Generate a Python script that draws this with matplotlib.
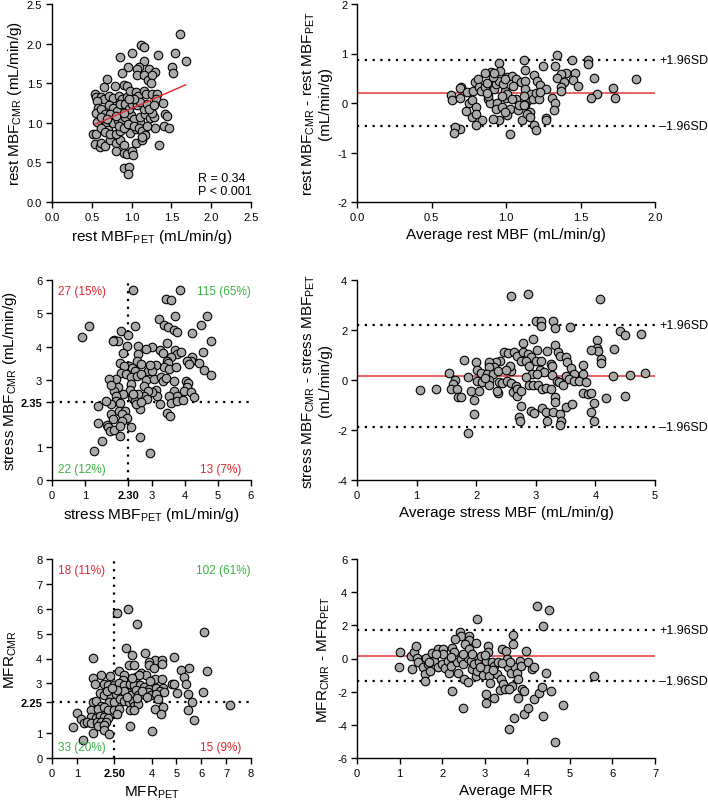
import matplotlib
matplotlib.use('Agg')
import matplotlib.pyplot as plt

plt.rcParams['font.family'] = ['Liberation Sans', 'DejaVu Sans']
plt.rcParams['mathtext.fontset'] = 'custom'
plt.rcParams['mathtext.rm'] = 'Liberation Sans'
plt.rcParams['mathtext.default'] = 'regular'
plt.rcParams['axes.unicode_minus'] = False

# ---- rest MBF: PET vs CMR ----
rest_pet = [1.61,1.12,1.15,1.00,0.85,1.33,1.55,1.68,1.15,1.51,
            1.52,0.95,1.09,1.07,1.07,1.22,1.30,0.88,1.16,1.21,
            0.69,1.26,1.24,0.65,0.79,0.90,0.94,0.54,0.55,0.61,
            0.65,0.57,0.58,0.71,0.77,0.84,0.85,0.88,0.94,0.98,
            1.05,1.08,1.15,1.18,1.25,1.32,1.31,1.39,1.42,1.45,
            1.41,1.47,1.29,1.35,0.52,0.55,0.54,0.60,0.62,0.67,
            0.73,0.80,0.86,0.81,0.91,0.90,0.94,1.01,1.02,0.90,
            0.97,0.95,1.06,1.13,1.15,0.98,1.06,1.10,0.63,0.66,
            0.70,0.77,0.83,0.88,0.92,0.99,1.03,1.11,1.17,1.23,
            1.28,1.26,1.15,0.55,0.61,0.67,0.71,0.77,0.82,0.86,
            0.92,0.97,1.01,1.07,1.11,1.19,1.22,1.03,0.57,0.61,
            0.67,0.73,0.80,0.86,0.84,0.90,0.96,1.03,1.09,1.13,
            1.19,1.17,1.13,0.73,0.80,0.90,0.97,1.28,0.61,0.69]
rest_cmr = [2.12,1.98,1.96,1.88,1.83,1.85,1.88,1.78,1.78,1.71,
            1.63,1.71,1.71,1.68,1.60,1.68,1.64,1.63,1.60,1.54,
            1.55,1.60,1.50,1.45,1.47,1.48,1.46,1.36,1.33,1.32,
            1.30,1.28,1.19,1.34,1.31,1.34,1.26,1.30,1.32,1.40,
            1.39,1.34,1.40,1.36,1.36,1.36,1.30,1.25,1.11,1.09,
            0.96,0.93,0.94,0.72,0.86,0.86,0.73,0.69,0.75,0.71,
            0.78,0.75,0.78,0.65,0.72,0.62,0.60,0.65,0.59,0.43,
            0.44,0.35,0.75,0.78,0.88,0.87,0.92,1.01,1.05,0.96,
            0.91,1.00,1.04,1.03,1.07,1.10,1.05,1.07,1.11,1.06,
            1.07,1.13,1.17,1.13,1.17,1.11,1.22,1.19,1.15,1.24,
            1.24,1.17,1.24,1.22,1.26,1.24,1.17,1.30,1.01,0.94,
            0.88,0.86,0.86,0.90,0.96,0.94,0.98,0.96,0.94,0.90,
            0.96,0.84,0.82,1.11,1.09,1.13,1.30,1.22,1.07,1.05]
rest_fit_x = [0.54, 1.68]
rest_fit_y = [0.98, 1.48]

# ---- rest MBF: Bland-Altman ----
rest_avg = [1.34,1.44,1.55,1.55,1.12,0.95,1.25,1.33,1.13,0.96,
            0.90,0.86,1.87,1.59,1.46,1.40,1.37,1.34,1.45,1.48,
            1.39,1.37,1.37,1.19,1.21,1.23,1.27,1.72,1.73,1.61,
            1.57,1.31,1.33,1.32,1.27,1.27,1.19,1.20,1.03,1.11,
            0.95,0.91,0.84,0.80,0.77,0.73,0.69,0.66,0.65,0.63,
            0.64,0.69,0.70,0.69,0.75,0.77,0.74,0.78,0.79,0.81,
            0.82,0.80,0.80,0.83,0.86,0.87,0.88,0.89,0.88,0.92,
            0.93,0.95,0.94,0.93,0.97,0.99,1.00,1.01,1.01,1.04,
            1.07,1.10,1.13,1.13,1.03,1.01,0.99,1.07,1.08,1.09,
            1.14,1.13,1.16,1.17,1.18,1.20,1.22,1.23,0.98,0.99,
            0.91,0.92,1.14,1.16,1.04,1.05,0.97,0.87,1.12,1.12]
rest_diff = [0.96,0.87,0.86,0.79,0.86,0.81,0.75,0.75,0.67,0.65,
             0.63,0.60,0.49,0.51,0.61,0.60,0.58,0.51,0.46,0.35,
             0.43,0.33,0.25,0.56,0.45,0.36,0.28,0.31,0.10,0.19,
             0.10,0.10,0.01,-0.15,-0.31,-0.35,-0.45,-0.55,-0.63,-0.35,
             -0.35,-0.32,-0.35,-0.44,-0.29,-0.17,-0.53,-0.49,-0.61,0.16,
             0.06,0.11,0.33,0.31,0.01,0.07,0.23,0.24,0.43,0.49,
             0.33,-0.09,-0.22,0.25,0.33,0.41,0.08,0.01,0.15,0.28,
             0.38,0.45,0.01,-0.12,-0.09,0.25,0.11,0.18,0.53,0.55,
             0.48,0.43,0.45,0.28,-0.12,-0.25,-0.19,0.08,-0.15,-0.05,
             0.05,-0.05,-0.19,0.18,0.09,0.21,0.08,0.23,0.38,0.48,
             0.53,0.61,-0.22,-0.29,0.08,0.35,0.15,0.21,0.15,-0.05]
rest_bias = 0.21
rest_loa = [-0.46, 0.87]

# ---- stress MBF: PET vs CMR ----
stress_pet = [2.45,3.85,3.43,3.60,4.67,3.70,3.22,3.38,3.51,4.49,
              2.51,1.13,0.90,3.68,3.76,2.07,2.29,4.23,1.88,2.00,
              1.84,4.79,2.60,3.01,2.83,3.48,3.26,2.27,2.13,3.36,
              3.70,3.76,3.60,3.90,4.55,4.23,4.18,4.06,4.13,4.44,
              4.58,4.78,3.46,3.50,3.38,3.52,3.73,3.13,2.98,2.88,
              2.60,2.55,2.68,2.33,2.41,2.50,2.04,2.17,2.07,1.92,
              2.24,2.37,2.55,2.68,2.83,2.78,3.09,3.28,3.34,3.43,
              3.68,4.03,4.11,4.06,3.98,4.18,4.28,3.68,3.78,3.53,
              3.58,3.78,3.96,3.26,3.48,3.56,3.13,3.18,3.03,2.88,
              2.78,2.86,2.58,2.41,2.51,2.65,2.52,2.68,2.37,2.35,
              2.43,2.15,1.99,1.88,1.92,1.92,2.05,1.79,1.62,1.79,
              1.40,2.02,2.19,2.12,2.25,1.84,2.10,2.37,1.39,1.65,
              1.70,1.76,1.86,2.05,2.05,1.51,2.65,1.27,2.94,1.72,
              1.79,3.03,2.96]
stress_cmr = [5.70,5.70,5.43,5.40,4.93,4.91,4.83,4.65,4.58,4.66,
              4.61,4.61,4.28,4.50,4.43,4.48,4.36,4.40,4.20,4.16,
              4.18,4.18,4.02,3.98,3.93,4.10,3.90,4.03,3.80,3.80,
              3.90,3.78,3.70,3.83,3.83,3.68,3.58,3.56,3.48,3.51,
              3.30,3.15,3.58,3.50,3.38,3.33,3.38,3.46,3.30,3.28,
              3.78,3.58,3.48,3.43,3.36,3.28,3.51,3.43,3.20,3.03,
              3.18,3.10,3.13,3.18,3.00,2.83,3.03,3.08,2.98,3.06,
              2.98,2.98,2.90,2.78,2.66,2.63,2.50,2.68,2.53,2.53,
              2.30,2.38,2.40,2.28,2.00,1.93,2.70,2.53,2.63,2.68,
              2.53,2.43,2.58,2.48,2.38,2.13,2.28,2.33,2.88,2.70,
              2.58,2.58,2.80,2.68,2.53,2.38,2.30,2.28,2.36,1.98,
              2.23,2.08,2.08,1.98,1.86,1.83,1.76,1.58,1.70,1.65,
              1.58,1.48,1.50,1.63,1.33,1.18,1.30,0.88,0.82,3.03,
              2.86,3.28,3.46]
stress_cut_pet = 2.30
stress_cut_cmr = 2.35
stress_quad = ['27 (15%)', '115 (65%)', '22 (12%)', '13 (7%)']

# ---- stress MBF: Bland-Altman ----
stress_avg = [2.59,2.87,4.07,3.01,3.08,3.09,3.29,3.32,3.57,4.42,
              4.50,4.77,2.96,2.78,3.32,4.02,4.02,4.05,4.31,3.02,
              3.18,2.47,2.54,2.63,2.69,2.79,2.87,2.92,2.75,2.83,
              2.89,2.40,2.33,2.21,2.22,2.30,2.21,1.99,2.01,1.79,
              2.58,2.57,3.00,3.08,3.07,3.14,3.26,3.27,3.37,3.41,
              3.50,3.53,3.59,3.79,3.93,4.09,4.10,1.54,2.08,2.18,
              2.29,2.37,2.94,3.02,3.28,3.50,3.64,3.80,4.30,4.58,
              4.83,1.87,1.65,1.61,1.58,1.06,1.32,1.67,1.69,1.75,
              1.91,1.96,1.97,2.02,2.09,2.05,2.22,2.22,2.38,2.44,
              2.37,2.35,2.51,2.58,2.61,2.67,2.69,2.68,2.75,2.75,
              2.72,2.74,2.84,2.89,2.95,2.92,2.97,3.03,3.10,3.17,
              3.25,3.32,3.32,3.11,3.17,3.18,3.29,3.41,3.42,3.41,
              3.50,3.61,3.35,3.39,3.46,3.55,3.64,3.73,3.85,3.80,
              3.87,3.93,3.98,3.97,3.92,4.18,4.49,1.87,2.15,2.50]
stress_diff = [3.36,3.44,3.25,2.35,2.35,2.16,2.37,2.08,2.13,1.97,
               1.81,1.84,1.65,1.47,1.39,1.60,1.27,1.15,1.23,1.19,
               1.15,1.11,1.07,1.12,0.97,1.11,1.04,0.91,0.76,0.75,
               0.57,0.77,0.71,0.64,0.71,0.51,0.51,0.71,0.40,0.81,
               0.37,0.57,0.77,0.77,0.40,0.31,0.64,0.57,1.11,0.97,
               0.93,0.71,0.48,0.61,1.20,0.84,0.68,0.28,0.27,0.24,
               0.24,0.35,0.24,0.24,0.21,0.17,0.24,0.24,0.15,0.19,
               0.27,0.11,0.00,-0.16,-0.36,-0.40,-0.37,-0.37,-0.69,-0.69,
               -0.43,-0.80,-1.36,-0.05,-0.09,-0.43,0.00,-0.19,-0.09,-0.13,
               -0.53,-0.45,-0.03,-0.13,-0.49,-0.23,-0.36,-0.63,-0.43,-1.03,
               -1.49,-1.63,0.13,-0.19,-0.19,-1.23,-1.32,-0.19,-0.36,-0.33,
               -0.36,-0.69,-0.89,-1.12,-1.29,-1.63,-1.29,-1.36,-1.63,-1.80,
               -1.07,-0.96,-0.03,-0.09,-0.19,0.04,-0.05,-0.05,-0.09,-0.53,
               -0.56,-0.53,-0.93,-1.63,-1.29,-0.72,-0.63,-2.13,0.08,0.40]
stress_bias = 0.17
stress_loa = [-1.89, 2.21]

# ---- MFR: PET vs CMR ----
mfr_pet = [2.63,3.06,3.40,6.11,2.98,3.23,3.75,4.91,1.64,4.14,
           4.44,4.44,3.89,3.91,3.11,3.29,4.12,5.52,5.20,6.23,
           2.71,3.57,3.78,3.38,3.48,5.32,1.66,1.97,2.32,2.91,
           2.84,4.14,4.42,1.73,2.10,2.24,2.51,2.71,2.88,3.15,
           3.31,3.55,5.39,4.83,4.92,3.71,3.91,4.18,4.48,4.33,
           4.51,5.01,5.48,6.07,1.92,2.10,2.37,2.57,2.80,3.02,
           3.18,3.38,3.47,3.65,3.85,3.98,4.18,4.25,5.62,7.17,
           1.64,1.77,1.97,2.31,2.51,2.73,2.91,3.11,3.24,3.31,
           3.45,1.57,1.84,2.10,2.24,2.51,2.71,3.15,3.31,4.14,
           4.45,5.46,0.99,2.61,4.38,1.16,1.27,1.57,1.77,1.94,
           2.10,2.24,1.41,1.57,1.81,1.97,2.17,5.70,0.83,1.84,
           2.08,2.10,3.15,1.64,2.28,4.01,1.26,2.90,3.40,3.60,
           2.60,3.00,3.80,2.20,2.40,3.95,3.20]
mfr_cmr = [5.82,5.98,5.38,5.08,4.43,4.15,4.23,4.05,4.03,3.95,
           3.95,3.79,3.85,3.75,3.72,3.72,3.61,3.61,3.52,3.48,
           3.48,3.42,3.32,3.25,3.32,3.25,3.22,3.32,3.28,3.32,
           3.12,3.18,3.18,2.96,2.98,2.92,2.92,3.02,2.92,2.98,
           2.92,2.94,2.96,2.98,2.98,2.85,2.78,2.81,2.82,2.68,
           2.65,2.62,2.58,2.65,2.61,2.52,2.45,2.58,2.52,2.65,
           2.54,2.72,2.52,2.58,2.65,2.52,2.58,2.38,2.25,2.15,
           2.25,2.31,2.11,2.25,2.25,2.38,2.31,2.25,2.31,2.11,
           2.18,1.91,1.98,2.05,1.91,1.91,1.98,1.94,1.91,1.98,
           2.05,1.94,1.81,1.78,1.75,1.58,1.40,1.65,1.61,1.69,
           1.65,1.61,1.44,1.40,1.44,1.44,1.44,1.51,1.24,1.28,
           1.31,1.11,1.28,1.02,0.95,1.07,0.74,2.70,2.40,2.70,
           2.75,2.45,2.45,2.70,2.80,3.10,3.20]
mfr_cut_pet = 2.50
mfr_cut_cmr = 2.25
mfr_quad = ['18 (11%)', '102 (61%)', '33 (20%)', '15 (9%)']

# ---- MFR: Bland-Altman ----
mfr_avg = [4.22,4.50,2.81,4.37,5.57,4.85,4.64,3.58,3.68,3.92,
           4.01,4.36,4.15,4.28,4.35,4.55,4.45,2.50,2.23,3.03,
           3.03,3.21,3.79,3.88,3.93,3.64,3.67,3.67,2.42,2.45,
           2.31,2.62,2.63,0.98,1.02,1.27,1.35,1.38,1.30,1.42,
           1.44,1.54,1.59,1.59,1.62,1.66,1.72,1.75,1.80,1.91,
           1.91,1.99,2.01,2.03,2.06,2.13,2.17,2.20,2.24,2.28,
           2.34,2.38,2.44,2.48,2.54,2.52,2.60,2.60,2.63,2.67,
           2.71,2.75,2.79,2.79,2.83,2.87,2.91,2.95,2.95,3.03,
           3.06,3.08,3.08,3.10,3.13,3.16,3.22,3.28,3.31,3.38,
           3.36,3.40,3.49,3.44,3.47,3.53,3.55,3.58,3.61,3.70,
           3.75,3.82,3.85,3.97,4.02,4.11,4.16,3.78,2.70,2.90,
           3.20,3.00,2.50,2.20,1.85,3.40,3.60,1.70]
mfr_diff = [3.16,2.92,2.37,1.97,-1.05,-2.78,-5.03,-4.23,-3.56,-3.36,
            -2.96,-3.46,-2.45,-2.11,-1.69,-1.93,-0.89,-2.98,-1.93,-2.17,
            -2.66,-2.41,-2.41,-1.85,-1.97,-1.65,1.41,0.89,1.57,1.37,
            1.17,1.33,1.13,-0.54,0.40,0.16,0.40,0.77,-0.64,0.06,
            -0.20,-0.54,-0.95,-1.37,0.06,-0.34,-0.74,0.32,-0.14,-0.54,
            0.60,-0.34,0.60,0.26,-0.60,-0.14,-0.85,-0.44,0.66,0.40,
            -0.24,-0.85,-0.04,-0.34,0.87,-1.21,-1.41,0.06,0.56,-0.14,
            -0.64,-0.34,0.93,-1.05,-0.74,-0.20,0.16,-0.44,-0.99,-0.14,
            -0.64,0.77,0.40,-1.05,-1.45,-0.20,-0.44,-0.95,-0.20,-1.25,
            -1.89,0.56,0.46,-1.55,-1.81,-0.04,-0.54,-1.85,-0.89,-0.54,
            -0.89,-0.14,-0.48,0.46,-0.24,-0.64,-0.50,-1.25,0.30,-0.50,
            -0.70,0.20,0.30,0.10,0.30,-0.30,-0.20,-0.20]
mfr_bias = 0.16
mfr_loa = [-1.37, 1.73]

RED = '#e3242b'
GREEN = '#3cb043'
PT = dict(s=38, c='#a9a9a9', edgecolors='black', linewidths=0.8, zorder=3)


def style(ax):
    for s in ['top', 'right']:
        ax.spines[s].set_visible(False)
    for s in ['left', 'bottom']:
        ax.spines[s].set_linewidth(1.0)
    ax.tick_params(direction='out', length=4, width=1, labelsize=8, pad=3)


def bland_altman(ax, x, d, bias, loa, xlim, ylim, xticks, yticks, xlab, ylab):
    style(ax)
    ax.scatter(x, d, **PT)
    ax.axhline(bias, color='#e8474a', lw=1.2, zorder=2)
    for v in loa:
        ax.axhline(v, color='black', lw=1.6, ls=(0, (1, 2.5)), zorder=2)
    ax.text(1.015, loa[1], '+1.96SD', transform=ax.get_yaxis_transform(),
            va='center', ha='left', fontsize=9)
    ax.text(1.015, loa[0], '\u20131.96SD', transform=ax.get_yaxis_transform(),
            va='center', ha='left', fontsize=9)
    ax.set_xlim(xlim)
    ax.set_ylim(ylim)
    ax.set_xticks(xticks)
    ax.set_yticks(yticks)
    ax.set_xlabel(xlab, fontsize=11)
    ax.set_ylabel(ylab, fontsize=11, linespacing=1.1)


def quadrant(ax, x, y, cx, cy, lim, ticks, quad, xlab, ylab):
    style(ax)
    ax.scatter(x, y, **PT)
    ax.plot([cx, cx], [0, lim], color='black', lw=1.6, ls=(0, (1, 2.5)), zorder=2)
    ax.plot([0, lim], [cy, cy], color='black', lw=1.6, ls=(0, (1, 2.5)), zorder=2)
    ax.set_xlim(0, lim)
    ax.set_ylim(0, lim)
    xt = sorted([t for t in ticks if abs(t - cx) > 0.6] + [cx])
    yt = sorted([t for t in ticks if abs(t - cy) > 0.4] + [cy])
    ax.set_xticks(xt)
    ax.set_xticklabels(['%.2f' % t if t == cx else '%d' % t for t in xt])
    ax.set_yticks(yt)
    ax.set_yticklabels(['%.2f' % t if t == cy else '%d' % t for t in yt])
    for lbl in ax.get_xticklabels():
        if lbl.get_text() == '%.2f' % cx:
            lbl.set_fontweight('bold')
    for lbl in ax.get_yticklabels():
        if lbl.get_text() == '%.2f' % cy:
            lbl.set_fontweight('bold')
    kw = dict(transform=ax.transAxes, fontsize=8.5)
    ax.text(0.03, 0.975, quad[0], color=RED, ha='left', va='top', **kw)
    ax.text(1.0, 0.975, quad[1], color=GREEN, ha='right', va='top', **kw)
    ax.text(0.03, 0.025, quad[2], color=GREEN, ha='left', va='bottom', **kw)
    ax.text(0.95, 0.025, quad[3], color=RED, ha='right', va='bottom', **kw)
    ax.set_xlabel(xlab, fontsize=11)
    ax.set_ylabel(ylab, fontsize=11, labelpad=1)


fig = plt.figure(figsize=(7.08, 8.03), dpi=100)
W, H = 708.0, 803.0
LX, LW = 52 / W, 199 / W
RX, RW = 357 / W, 298 / W


def row(top, bot):
    return 1 - bot / H, (bot - top) / H


# row 1
b, h = row(5, 203)
ax1 = fig.add_axes([LX, b, LW, h])
style(ax1)
ax1.scatter(rest_pet, rest_cmr, **PT)
ax1.plot(rest_fit_x, rest_fit_y, color='#e3242b', lw=1.0, zorder=4)
ax1.set_xlim(0, 2.5)
ax1.set_ylim(0, 2.5)
ax1.set_xticks([0, 0.5, 1.0, 1.5, 2.0, 2.5])
ax1.set_yticks([0, 0.5, 1.0, 1.5, 2.0, 2.5])
ax1.set_xticklabels(['0.0', '0.5', '1.0', '1.5', '2.0', '2.5'])
ax1.set_yticklabels(['0.0', '0.5', '1.0', '1.5', '2.0', '2.5'])
ax1.text(1.84, 0.06, 'R = 0.34\nP < 0.001', fontsize=9, ha='left', va='bottom',
         linespacing=1.1)
ax1.set_xlabel('rest MBF$_{PET}$ (mL/min/g)', fontsize=11)
ax1.set_ylabel('rest MBF$_{CMR}$ (mL/min/g)', fontsize=11, labelpad=2)

ax2 = fig.add_axes([RX, b, RW, h])
bland_altman(ax2, rest_avg, rest_diff, rest_bias, rest_loa, (0, 2), (-2, 2),
             [0, 0.5, 1.0, 1.5, 2.0], [-2, -1, 0, 1, 2],
             'Average rest MBF (mL/min/g)',
             'rest MBF$_{CMR}$ - rest MBF$_{PET}$\n(mL/min/g)')
ax2.set_xticklabels(['0.0', '0.5', '1.0', '1.5', '2.0'])

# row 2
b, h = row(281, 481)
ax3 = fig.add_axes([LX, b, LW, h])
quadrant(ax3, stress_pet, stress_cmr, stress_cut_pet, stress_cut_cmr, 6,
         [0, 1, 2, 3, 4, 5, 6], stress_quad,
         'stress MBF$_{PET}$ (mL/min/g)', 'stress MBF$_{CMR}$ (mL/min/g)')

ax4 = fig.add_axes([RX, b, RW, h])
bland_altman(ax4, stress_avg, stress_diff, stress_bias, stress_loa, (0, 5), (-4, 4),
             [0, 1, 2, 3, 4, 5], [-4, -2, 0, 2, 4],
             'Average stress MBF (mL/min/g)',
             'stress MBF$_{CMR}$ - stress MBF$_{PET}$\n(mL/min/g)')

# row 3
b, h = row(560, 759)
ax5 = fig.add_axes([LX, b, LW, h])
quadrant(ax5, mfr_pet, mfr_cmr, mfr_cut_pet, mfr_cut_cmr, 8,
         [0, 1, 2, 3, 4, 5, 6, 7, 8], mfr_quad,
         'MFR$_{PET}$', 'MFR$_{CMR}$')

ax6 = fig.add_axes([RX, b, RW, h])
bland_altman(ax6, mfr_avg, mfr_diff, mfr_bias, mfr_loa, (0, 7), (-6, 6),
             [0, 1, 2, 3, 4, 5, 6, 7], [-6, -4, -2, 0, 2, 4, 6],
             'Average MFR', 'MFR$_{CMR}$ - MFR$_{PET}$')

fig.savefig('out.png', dpi=100)
